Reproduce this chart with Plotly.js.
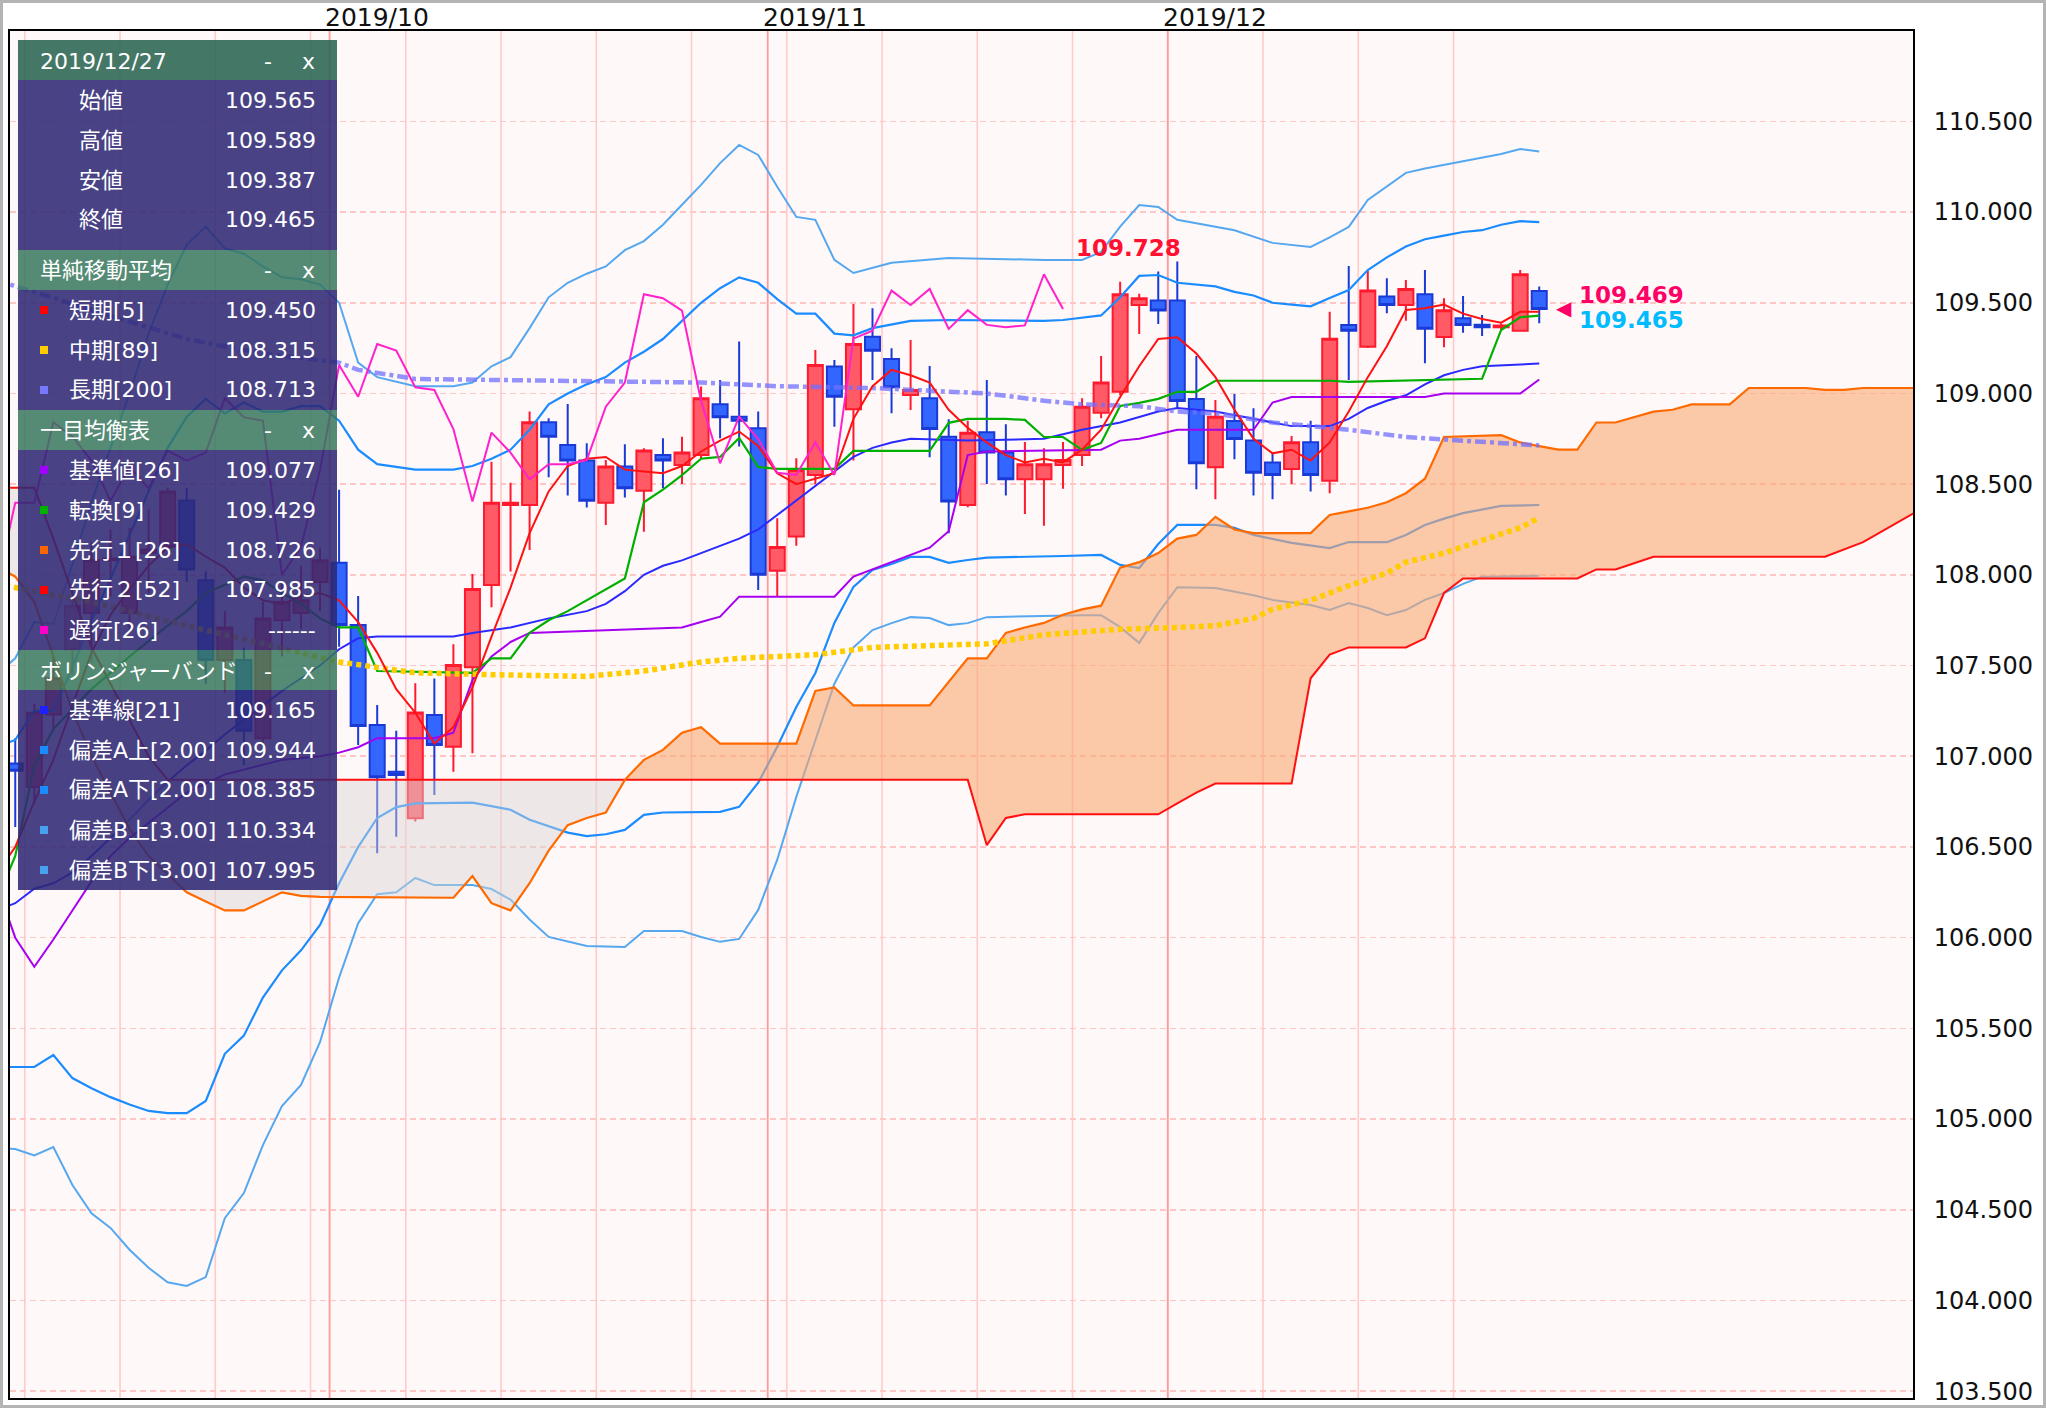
<!DOCTYPE html>
<html>
<head>
<meta charset="utf-8">
<script src="https://cdn.plot.ly/plotly-3.0.1.min.js"></script>
<style>
html,body{margin:0;padding:0;background:#fff;}
#wrap{position:relative;width:2046px;height:1408px;}
#chart{width:2046px;height:1408px;}
#frame{position:absolute;left:0;top:0;width:2046px;height:1408px;box-sizing:border-box;border:3px solid #b4b4b4;pointer-events:none;}
</style>
</head>
<body>
<div id="wrap"><div id="chart"></div><div id="frame"></div></div>
<script>
// ---------------- DATA ----------------
// trading days (weekdays) starting 2019-09-06; day number 0 = 2019-09-09
function weekdaysFrom(start, count){
  const out=[]; const d=new Date(start+'T00:00:00Z');
  while(out.length<count){const w=d.getUTCDay(); if(w!==0&&w!==6) out.push(d.toISOString().slice(0,10)); d.setUTCDate(d.getUTCDate()+1);}
  return out;
}
const candleDates = weekdaysFrom('2019-09-06', 81);      // 2019-09-06 .. 2019-12-27
const candleX = candleDates.map((d,k)=>k-1);

const opens  = [106.96,106.83,107.23,107.59,107.79,108.08,107.79,108.12,108.16,108.41,107.97,107.53,107.53,107.10,107.75,107.79,107.96,
 108.067,107.724,107.172,106.915,106.658,107.228,107.052,107.491,107.944,108.385,108.385,108.841,108.716,108.630,108.398,108.597,108.464,108.661,108.606,108.661,
 108.940,108.872,108.808,108.023,108.211,108.551,109.148,108.913,109.313,109.190,108.992,108.974,108.762,108.385,108.786,108.674,108.527,108.527,108.605,108.661,
 108.894,109.010,109.488,109.512,109.512,108.970,108.593,108.848,108.740,108.619,108.584,108.731,108.519,109.378,109.258,109.534,109.488,109.547,109.311,109.415,
 109.379,109.365,109.345,109.565];
const highs  = [107.10,107.29,107.55,107.95,108.18,108.25,108.26,108.36,108.48,108.48,108.02,107.80,107.60,107.85,107.95,108.05,108.15,
 108.469,107.883,107.283,107.140,107.402,107.429,107.618,108.005,108.624,108.508,108.900,108.863,108.942,108.725,108.633,108.720,108.698,108.753,108.762,109.038,
 109.074,109.286,108.900,108.312,108.643,109.240,109.185,109.493,109.470,109.249,109.295,109.152,108.858,108.850,109.074,108.830,108.733,108.698,108.733,108.974,
 109.207,109.616,109.549,109.672,109.728,109.207,108.964,108.997,108.918,108.674,108.766,108.850,109.451,109.703,109.677,109.635,109.626,109.680,109.525,109.537,
 109.433,109.385,109.680,109.589];
const lows   = [106.61,106.74,107.15,107.45,107.52,107.88,107.70,107.90,108.10,107.96,107.40,107.35,106.95,107.05,107.55,107.70,107.80,
 107.604,107.062,106.465,106.557,106.640,106.787,106.915,107.017,107.822,108.018,108.137,108.538,108.437,108.371,108.275,108.426,108.238,108.477,108.501,108.640,
 108.753,108.707,107.917,107.880,108.161,108.500,108.817,108.630,109.074,108.891,108.909,108.648,108.229,108.373,108.501,108.437,108.336,108.271,108.474,108.600,
 108.863,108.990,109.328,109.383,108.918,108.472,108.417,108.637,108.437,108.417,108.501,108.459,108.450,109.074,109.250,109.442,109.401,109.167,109.255,109.334,
 109.317,109.355,109.345,109.387];
const closes = [106.92,107.24,107.43,107.83,108.08,108.09,108.10,108.14,108.46,108.03,107.53,107.71,107.14,107.76,107.85,107.86,108.08,
 107.724,107.167,106.884,106.897,107.241,107.062,107.503,107.922,108.398,108.398,108.841,108.762,108.630,108.409,108.597,108.477,108.685,108.630,108.674,108.974,
 108.869,108.850,108.000,108.154,108.578,109.157,108.982,109.272,109.236,109.034,109.019,108.804,108.404,108.784,108.674,108.527,108.610,108.610,108.633,108.927,
 109.060,109.547,109.525,109.457,108.959,108.615,108.872,108.749,108.563,108.551,108.731,108.551,109.302,109.346,109.567,109.488,109.576,109.356,109.459,109.378,
 109.365,109.375,109.657,109.465];
const askPrice = 109.469;

// indicator lines: [day number, price]
const sma5 = [[-2,106.35],[-1,106.50],[0,106.75],[1,106.98],[2,107.28],[3,107.57],[4,107.78],[5,107.92],[6,108.05],[7,108.15],[8,108.17],[9,108.10],[10,108.04],[11,107.93],[12,107.86],[13,107.84],[14,107.88],[15,107.90],[16,107.86],[17,107.74],[18,107.57],[19,107.37],[20,107.24],[21,107.07],[22,107.16],[23,107.38],[24,107.66],[25,107.93],[26,108.23],[27,108.46],[28,108.60],[29,108.64],[30,108.65],[31,108.58],[32,108.57],[33,108.56],[34,108.60],[35,108.68],[36,108.74],[37,108.79],[38,108.71],[39,108.56],[40,108.50],[41,108.53],[42,108.56],[43,108.86],[44,109.04],[45,109.13],[46,109.10],[47,109.06],[48,108.91],[49,108.81],[50,108.73],[51,108.66],[52,108.62],[53,108.64],[54,108.62],[55,108.69],[56,108.80],[57,108.98],[58,109.15],[59,109.30],[60,109.31],[61,109.22],[62,109.09],[63,108.91],[64,108.75],[65,108.67],[66,108.69],[67,108.63],[68,108.73],[69,108.90],[70,109.09],[71,109.26],[72,109.46],[73,109.47],[74,109.49],[75,109.44],[76,109.41],[77,109.39],[78,109.45],[79,109.45]];
const sma89 = [[-2,107.95],[-1,107.93],[3,107.85],[8,107.72],[12,107.62],[16,107.52],[18,107.49],[20,107.46],[24,107.45],[29,107.44],[32,107.47],[35,107.52],[37,107.54],[41,107.56],[44,107.60],[48,107.61],[50,107.62],[53,107.67],[57,107.70],[60,107.71],[62,107.72],[64,107.76],[65,107.81],[67,107.86],[69,107.94],[71,108.01],[72,108.07],[74,108.12],[76,108.19],[77,108.22],[78,108.26],[79,108.315]];
const sma200 = [[-2,109.63],[-1,109.59],[0,109.56],[3,109.46],[8,109.30],[12,109.22],[16,109.17],[17,109.13],[20,109.08],[30,109.07],[35,109.06],[39,109.04],[44,109.03],[48,109.01],[50,109.00],[53,108.96],[55,108.94],[58,108.93],[60,108.90],[62,108.89],[65,108.84],[66,108.83],[69,108.80],[72,108.76],[77,108.73],[79,108.713]];
const kijun = [[-2,106.30],[-1,106.00],[0,105.84],[1,105.99],[2,106.15],[3,106.31],[4,106.45],[5,106.55],[8,106.80],[10,106.90],[13,106.98],[15,107.00],[16,107.02],[17,107.05],[18,107.10],[21,107.10],[22,107.13],[23,107.42],[24,107.55],[25,107.63],[26,107.68],[34,107.71],[35,107.74],[36,107.77],[37,107.88],[42,107.88],[43,107.99],[45,108.07],[47,108.15],[48,108.24],[49,108.66],[50,108.68],[56,108.69],[57,108.74],[58,108.75],[60,108.80],[64,108.80],[65,108.95],[66,108.98],[73,108.98],[74,109.00],[78,109.00],[79,109.077]];
const tenkan = [[-2,106.20],[-1,106.45],[0,106.95],[1,107.15],[3,107.37],[5,107.55],[7,107.72],[8,107.80],[9,107.90],[11,107.99],[12,107.97],[13,107.90],[14,107.84],[15,107.76],[16,107.71],[17,107.71],[18,107.47],[23,107.46],[24,107.54],[25,107.54],[26,107.68],[27,107.75],[28,107.80],[29,107.86],[30,107.92],[31,107.98],[32,108.40],[33,108.47],[34,108.55],[35,108.64],[36,108.65],[37,108.755],[38,108.595],[39,108.584],[42,108.584],[43,108.683],[47,108.683],[48,108.838],[49,108.86],[51,108.86],[52,108.854],[53,108.76],[54,108.76],[55,108.689],[56,108.727],[57,108.931],[58,108.948],[59,108.97],[60,109.009],[61,109.009],[62,109.07],[68,109.07],[69,109.064],[76,109.081],[77,109.35],[78,109.42],[79,109.429]];
const senkouA = [[-2,108.05],[-1,107.99],[0,107.85],[1,107.55],[2,107.25],[3,107.00],[4,106.80],[5,106.60],[6,106.45],[7,106.35],[8,106.25],[9,106.20],[10,106.15],[11,106.15],[12,106.20],[13,106.25],[14,106.23],[15,106.225],[22,106.22],[23,106.34],[24,106.19],[25,106.15],[26,106.30],[27,106.48],[28,106.62],[29,106.66],[30,106.69],[31,106.87],[32,106.98],[33,107.035],[34,107.13],[35,107.16],[36,107.07],[40,107.07],[41,107.36],[42,107.38],[43,107.28],[47,107.28],[49,107.54],[50,107.54],[51,107.68],[52,107.71],[53,107.735],[54,107.78],[55,107.81],[56,107.83],[57,108.04],[58,108.07],[59,108.12],[60,108.20],[61,108.22],[62,108.32],[63,108.25],[64,108.23],[67,108.23],[68,108.33],[69,108.35],[70,108.37],[71,108.40],[72,108.45],[73,108.53],[74,108.76],[77,108.77],[78,108.73],[79,108.71],[80,108.69],[81,108.69],[82,108.84],[83,108.84],[84,108.87],[85,108.90],[86,108.91],[87,108.94],[89,108.94],[90,109.03],[93,109.03],[94,109.02],[95,109.02],[96,109.03],[100,109.03]];
const senkouB = [[-2,108.48],[-1,108.48],[0,108.48],[1,108.20],[2,107.90],[3,107.60],[4,107.40],[5,107.20],[6,107.00],[7,106.87],[31,106.87],[49,106.87],[50,106.51],[51,106.66],[52,106.68],[59,106.68],[60,106.74],[61,106.80],[62,106.85],[66,106.85],[67,107.43],[68,107.56],[69,107.60],[72,107.60],[73,107.65],[74,107.90],[75,107.98],[81,107.98],[82,108.03],[83,108.03],[85,108.10],[94,108.10],[96,108.18],[97,108.24],[98,108.30],[99,108.36],[100,108.42]];
const cloudTwist = 31;
const chikou = [[-2,107.922],[-1,108.398],[0,108.398],[1,108.841],[2,108.762],[3,108.630],[4,108.409],[5,108.597],[6,108.477],[7,108.685],[8,108.630],[9,108.674],[10,108.974],[11,108.869],[12,108.850],[13,108.000],[14,108.154],[15,108.578],[16,109.157],[17,108.982],[18,109.272],[19,109.236],[20,109.034],[21,109.019],[22,108.804],[23,108.404],[24,108.784],[25,108.674],[26,108.527],[27,108.610],[28,108.610],[29,108.633],[30,108.927],[31,109.060],[32,109.547],[33,109.525],[34,109.457],[35,108.959],[36,108.615],[37,108.872],[38,108.749],[39,108.563],[40,108.551],[41,108.731],[42,108.551],[43,109.302],[44,109.346],[45,109.567],[46,109.488],[47,109.576],[48,109.356],[49,109.459],[50,109.378],[51,109.365],[52,109.375],[53,109.657],[54,109.465]];
const bbMid = [[-2,106.15],[-1,106.19],[0,106.27],[1,106.30],[2,106.36],[3,106.45],[4,106.55],[5,106.65],[6,106.76],[7,106.86],[8,106.95],[9,107.03],[10,107.12],[11,107.20],[12,107.28],[13,107.36],[14,107.43],[15,107.50],[16,107.59],[17,107.65],[18,107.66],[22,107.66],[23,107.68],[25,107.71],[27,107.76],[29,107.80],[30,107.84],[31,107.91],[32,108.00],[33,108.05],[34,108.08],[35,108.12],[36,108.16],[37,108.20],[38,108.25],[39,108.33],[40,108.41],[41,108.49],[42,108.57],[43,108.65],[44,108.70],[45,108.73],[46,108.75],[49,108.74],[53,108.75],[55,108.80],[57,108.84],[59,108.90],[60,108.92],[62,108.90],[64,108.86],[66,108.82],[68,108.82],[69,108.86],[70,108.92],[71,108.96],[72,108.99],[73,109.05],[74,109.10],[75,109.13],[76,109.15],[79,109.165]];
const bbAUp = [[-2,107.05],[-1,107.09],[0,107.25],[1,107.25],[2,107.49],[3,107.75],[4,107.98],[5,108.22],[6,108.47],[7,108.70],[8,108.87],[9,108.97],[10,108.89],[11,108.95],[12,108.90],[13,108.90],[14,108.93],[15,108.93],[16,108.85],[17,108.69],[18,108.61],[20,108.58],[22,108.58],[23,108.60],[24,108.64],[25,108.69],[26,108.80],[27,108.94],[28,109.00],[29,109.05],[30,109.09],[31,109.17],[32,109.23],[33,109.30],[34,109.40],[35,109.50],[36,109.58],[37,109.64],[38,109.61],[39,109.52],[40,109.44],[41,109.44],[42,109.33],[43,109.32],[44,109.36],[45,109.38],[46,109.40],[48,109.405],[53,109.40],[54,109.405],[56,109.43],[57,109.53],[58,109.648],[59,109.653],[60,109.61],[62,109.59],[63,109.56],[64,109.54],[65,109.50],[66,109.49],[67,109.48],[68,109.526],[69,109.57],[70,109.68],[71,109.75],[72,109.81],[73,109.85],[74,109.87],[75,109.89],[76,109.90],[77,109.93],[78,109.95],[79,109.944]];
const bbBUp = [[-2,107.45],[-1,107.54],[0,107.74],[1,107.73],[2,108.06],[3,108.40],[4,108.70],[5,109.00],[6,109.33],[7,109.60],[8,109.82],[9,109.92],[10,109.80],[11,109.77],[12,109.70],[13,109.64],[14,109.63],[15,109.60],[16,109.50],[17,109.17],[18,109.09],[20,109.04],[22,109.04],[23,109.06],[24,109.15],[25,109.20],[26,109.36],[27,109.53],[28,109.61],[29,109.66],[30,109.70],[31,109.79],[32,109.84],[33,109.93],[34,110.04],[35,110.15],[36,110.27],[37,110.37],[38,110.315],[39,110.14],[40,109.973],[41,109.957],[42,109.736],[43,109.664],[45,109.72],[48,109.747],[53,109.736],[55,109.736],[56,109.78],[57,109.92],[58,110.039],[59,110.028],[60,109.957],[63,109.90],[65,109.83],[67,109.808],[68,109.86],[69,109.918],[70,110.067],[71,110.14],[72,110.216],[73,110.24],[74,110.26],[75,110.28],[76,110.298],[77,110.32],[78,110.348],[79,110.334]];
const bbALow = [[-2,105.287],[-1,105.287],[0,105.287],[1,105.353],[2,105.226],[3,105.17],[4,105.121],[5,105.08],[6,105.045],[7,105.033],[8,105.033],[9,105.10],[10,105.36],[11,105.46],[12,105.67],[13,105.82],[14,105.93],[15,106.07],[16,106.30],[17,106.50],[18,106.66],[19,106.72],[20,106.74],[23,106.744],[25,106.705],[26,106.65],[28,106.579],[29,106.56],[30,106.57],[31,106.594],[32,106.677],[33,106.69],[36,106.694],[37,106.721],[38,106.854],[39,107.052],[40,107.272],[41,107.459],[42,107.735],[43,107.934],[44,108.027],[45,108.06],[46,108.099],[47,108.099],[48,108.066],[49,108.082],[50,108.095],[54,108.104],[56,108.11],[57,108.055],[58,108.038],[59,108.17],[60,108.275],[62,108.275],[63,108.259],[64,108.22],[66,108.176],[68,108.148],[69,108.181],[71,108.18],[72,108.22],[73,108.275],[74,108.31],[75,108.34],[76,108.36],[77,108.38],[79,108.385]];
const bbBLow = [[-2,104.84],[-1,104.835],[0,104.80],[1,104.846],[2,104.637],[3,104.48],[4,104.40],[5,104.28],[6,104.18],[7,104.10],[8,104.08],[9,104.129],[10,104.454],[11,104.592],[12,104.857],[13,105.072],[14,105.188],[15,105.425],[16,105.78],[17,106.08],[18,106.24],[19,106.25],[20,106.329],[21,106.29],[23,106.29],[24,106.268],[25,106.21],[26,106.10],[27,106.004],[29,105.954],[31,105.949],[32,106.037],[34,106.037],[35,106.004],[36,105.977],[37,105.993],[38,106.153],[39,106.43],[40,106.776],[41,107.09],[42,107.40],[43,107.60],[44,107.696],[45,107.734],[46,107.767],[47,107.762],[48,107.723],[49,107.734],[50,107.767],[55,107.778],[56,107.778],[57,107.712],[58,107.625],[59,107.789],[60,107.932],[62,107.928],[64,107.888],[65,107.862],[67,107.834],[68,107.806],[69,107.845],[70,107.817],[71,107.778],[72,107.806],[73,107.862],[74,107.90],[75,107.95],[76,107.99],[79,107.995]];

// panel texts
const panelDate = '2019/12/27';
const ohlcLabels = ['始値','高値','安値','終値'];
const ohlcValues = ['109.565','109.589','109.387','109.465'];
const smaLabels = ['短期[5]','中期[89]','長期[200]'];
const smaValues = ['109.450','108.315','108.713'];
const ichiLabels = ['基準値[26]','転換[9]','先行１[26]','先行２[52]','遅行[26]'];
const ichiValues = ['109.077','109.429','108.726','107.985','------'];
const bbLabels = ['基準線[21]','偏差A上[2.00]','偏差A下[2.00]','偏差B上[3.00]','偏差B下[3.00]'];
const bbValues = ['109.165','109.944','108.385','110.334','107.995'];

// ---------------- STYLE ----------------
const C = {
  up:'#ff5a66', upLine:'#ff1a2e', dn:'#3366ff', dnLine:'#1a3ad6',
  sma5:'#ff1111', sma89:'#ffcc00', sma200:'rgba(112,112,255,0.75)',
  kijun:'#a600f0', tenkan:'#00b000', spanA:'#ff6a00', spanB:'#ff1010', chikou:'#ff22cc',
  bbMid:'#2a2aff', bbA:'#1a8cff', bbB:'#55a8f0',
  cloudUp:'rgba(248,168,115,0.6)', cloudDn:'rgba(214,212,210,0.45)'
};
const PL=10, PT=31, PW=1903, PH=1367;
const px = v => (v-PL)/PW;
const py = v => (PT+PH-v)/PH;
const FONT = 'DejaVu Sans, Noto Sans CJK JP, sans-serif';

function lineTrace(pts, color, width, dash){
  return {type:'scatter', mode:'lines', x:pts.map(p=>p[0]), y:pts.map(p=>p[1]),
    line:{color:color, width:width, dash:dash||'solid'}, hoverinfo:'skip'};
}
function cloudPart(lo, hi, color){
  const top = senkouA.filter(p=>p[0]>=lo && p[0]<=hi);
  const bot = senkouB.filter(p=>p[0]>=lo && p[0]<=hi).slice().reverse();
  const pts = top.concat(bot);
  return {type:'scatter', mode:'none', x:pts.map(p=>p[0]), y:pts.map(p=>p[1]),
    fill:'toself', fillcolor:color, hoverinfo:'skip'};
}

const traces = [
  {type:'candlestick', x:candleX, open:opens, high:highs, low:lows, close:closes,
   increasing:{line:{color:C.upLine, width:2}, fillcolor:C.up},
   decreasing:{line:{color:C.dnLine, width:2}, fillcolor:C.dn},
   whiskerwidth:0, hoverinfo:'skip'},
  lineTrace(bbBUp, C.bbB, 2),
  lineTrace(bbAUp, C.bbA, 2.2),
  lineTrace(bbMid, C.bbMid, 2),
  lineTrace(bbALow, C.bbA, 2.2),
  lineTrace(bbBLow, C.bbB, 2),
  cloudPart(-5, cloudTwist, C.cloudDn),
  cloudPart(cloudTwist, 200, C.cloudUp),
  lineTrace(senkouB, C.spanB, 2),
  lineTrace(senkouA, C.spanA, 2.2),
  lineTrace(kijun, C.kijun, 2),
  lineTrace(tenkan, C.tenkan, 2.2),
  lineTrace(sma200, C.sma200, 4.5, '11px,4px,4px,4px'),
  lineTrace(sma89, C.sma89, 5.5, '5px,4px'),
  lineTrace(sma5, C.sma5, 2),
  lineTrace(chikou, C.chikou, 2)
];

// ---------------- GRID LINES (from dates) ----------------
const shapes = [];
const annotations = [];
const mondays = [], monthStarts = [];
candleDates.forEach((d,k)=>{
  const dt = new Date(d+'T00:00:00Z');
  if(dt.getUTCDay()===1) mondays.push(candleX[k]);
  if(k>0 && d.slice(5,7)!==candleDates[k-1].slice(5,7)) monthStarts.push({x:candleX[k], label:d.slice(0,4)+'/'+d.slice(5,7)});
});
mondays.forEach(m=>shapes.push({type:'line', xref:'x', yref:'paper', x0:m-0.5, x1:m-0.5, y0:0, y1:1, layer:'below', line:{color:'#ffcaca', width:1.6}}));
monthStarts.forEach(m=>{
  shapes.push({type:'line', xref:'x', yref:'paper', x0:m.x-0.5, x1:m.x-0.5, y0:0, y1:1, layer:'below', line:{color:'#ff9a9a', width:1.8}});
  annotations.push({xref:'x', yref:'paper', x:m.x-0.5, y:1, xanchor:'left', yanchor:'bottom', xshift:-7, yshift:-3, showarrow:false,
    text:m.label, font:{family:'DejaVu Sans', size:25, color:'#111'}});
});

// ---------------- HIGH / CURRENT PRICE LABELS ----------------
let hiIdx = 0; highs.forEach((h,k)=>{ if(h>highs[hiIdx]) hiIdx=k; });
annotations.push({xref:'x', yref:'y', x:candleX[hiIdx], y:highs[hiIdx], xanchor:'right', yanchor:'bottom', xshift:6, yshift:-2, showarrow:false,
  text:'<b>'+highs[hiIdx].toFixed(3)+'</b>', font:{family:'DejaVu Sans', size:23, color:'#ff1030'}});
const lastX = candleX[candleX.length-1], lastC = closes[closes.length-1];
annotations.push({xref:'x', yref:'y', x:lastX, y:askPrice, xanchor:'center', yanchor:'middle', xshift:25, yshift:0, showarrow:false,
  text:'◀', font:{family:'DejaVu Sans', size:20, color:'#ff0066'}});
annotations.push({xref:'x', yref:'y', x:lastX, y:askPrice, xanchor:'left', yanchor:'middle', xshift:38, yshift:13, showarrow:false,
  text:'<b>'+askPrice.toFixed(3)+'</b>', font:{family:'DejaVu Sans', size:23, color:'#ff0066'}});
annotations.push({xref:'x', yref:'y', x:lastX, y:askPrice, xanchor:'left', yanchor:'middle', xshift:38, yshift:-12, showarrow:false,
  text:'<b>'+lastC.toFixed(3)+'</b>', font:{family:'DejaVu Sans', size:23, color:'#00bbff'}});

// ---------------- INFO PANEL ----------------
const PX0=18, PX1=337;
const HEAD1='rgba(38,98,78,0.86)', HEAD='rgba(52,118,92,0.84)', BODY='rgba(46,40,116,0.87)';
function rect(y0,y1,color){ shapes.push({type:'rect', xref:'paper', yref:'paper', x0:px(PX0), x1:px(PX1), y0:py(y1), y1:py(y0), fillcolor:color, line:{width:0}, layer:'above'}); }
function txt(x,y,t,anchor,size,color){ annotations.push({xref:'paper', yref:'paper', x:px(x), y:py(y), xanchor:anchor, yanchor:'middle', showarrow:false, text:t, font:{family:FONT, size:size||22, color:color||'#ffffff'}}); }
function header(y0,title,bg){
  rect(y0,y0+40,bg);
  txt(38,y0+21,title,'left',22);
  txt(268,y0+21,'-','center',22);
  txt(308,y0+21,'x','center',22);
}
function marker(y,color){ shapes.push({type:'rect', xref:'paper', yref:'paper', x0:px(40), x1:px(48), y0:py(y+4), y1:py(y-4), fillcolor:color, line:{width:0}, layer:'above'}); }

let y = 40;
header(y, panelDate, HEAD1); y+=40;
rect(y, y+170, BODY);
ohlcLabels.forEach((l,k)=>{ txt(77, y+20+40*k, l, 'left'); txt(318, y+20+40*k, ohlcValues[k], 'right'); });
y+=170;
const sections = [
  {title:'単純移動平均', labels:smaLabels, values:smaValues, colors:['#ff0000','#ffcc00','#7777ff']},
  {title:'一目均衡表', labels:ichiLabels, values:ichiValues, colors:['#a000ff','#00b000','#ff6600','#ff0000','#ff00cc']},
  {title:'ボリンジャーバンド', labels:bbLabels, values:bbValues, colors:['#2020ff','#1a8cff','#1a8cff','#4aa0f0','#4aa0f0']}
];
sections.forEach(s=>{
  header(y, s.title, HEAD); y+=40;
  const h = 40*s.labels.length;
  rect(y, y+h, BODY);
  s.labels.forEach((l,k)=>{
    const cy = y+20+40*k;
    marker(cy, s.colors[k]);
    txt(67, cy, l, 'left');
    txt(318, cy, s.values[k], 'right');
  });
  y+=h;
});

// ---------------- LAYOUT ----------------
const layout = {
  width:2046, height:1408,
  margin:{l:PL, r:2046-PL-PW, t:PT, b:1408-PT-PH, pad:0},
  paper_bgcolor:'#ffffff', plot_bgcolor:'#fff8f8',
  showlegend:false, dragmode:false,
  boxgap:0.1, boxgroupgap:0.125,
  font:{family:'DejaVu Sans'},
  xaxis:{range:[-1.276, 98.62], showgrid:false, zeroline:false, showticklabels:false, ticks:'',
    showline:true, mirror:true, linecolor:'#000', linewidth:2, rangeslider:{visible:false}, fixedrange:true},
  yaxis:{side:'right', range:[103.4625, 110.998], tick0:103.5, dtick:0.5, tickformat:'.3f',
    showgrid:true, gridcolor:'#ffc6c6', gridwidth:1.6, griddash:'6px,4px', zeroline:false,
    ticks:'outside', ticklen:14, tickcolor:'rgba(0,0,0,0)',
    tickfont:{family:'DejaVu Sans', size:24, color:'#111'},
    showline:true, mirror:true, linecolor:'#000', linewidth:2, fixedrange:true},
  shapes:shapes, annotations:annotations
};
Plotly.newPlot('chart', traces, layout, {displayModeBar:false, staticPlot:true});
</script>
</body>
</html>
